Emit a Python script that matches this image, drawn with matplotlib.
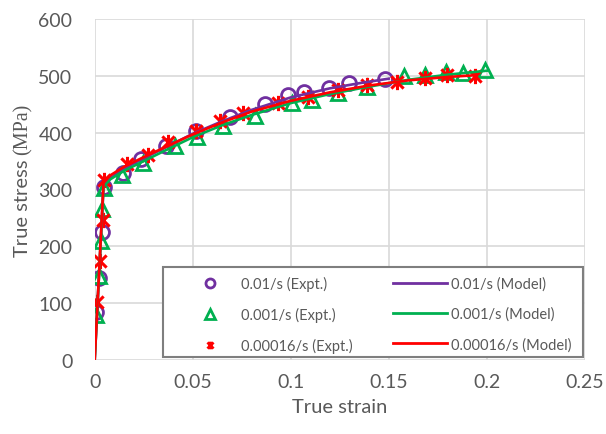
import matplotlib
matplotlib.use("Agg")
import matplotlib.pyplot as plt
from matplotlib.lines import Line2D
from matplotlib.patches import Rectangle
from matplotlib.path import Path
import numpy as np

# ---------------- data ----------------
strain_e1 = [0.0005, 0.0023, 0.0037, 0.0048, 0.0143, 0.0236, 0.0364, 0.0517, 0.069, 0.0869,
             0.0988, 0.107, 0.1197, 0.1298, 0.148]
stress_e1 = [84, 145, 226, 305, 329, 353, 376, 403, 428, 450, 467, 471, 478, 487, 495]

strain_e2 = [0.0007, 0.0022, 0.003, 0.0039, 0.0048, 0.0138, 0.0248, 0.041, 0.052, 0.0653, 0.0818,
             0.1005, 0.1107, 0.1243, 0.139, 0.158, 0.1685, 0.179, 0.188, 0.1991]
stress_e2 = [80, 148, 209, 265, 303, 326, 346, 376, 393, 412, 430, 452, 458, 470, 481, 499, 502,
             506, 505, 510]

strain_e3 = [0.0013, 0.0027, 0.0041, 0.0048, 0.0163, 0.0273, 0.0376, 0.0517, 0.064, 0.0758,
             0.0937, 0.109, 0.1243, 0.1388, 0.154, 0.1685, 0.1796, 0.194]
stress_e3 = [102, 174, 247, 317, 344, 361, 383, 403, 420, 435, 452, 463, 475, 484, 490, 497, 501, 499]

strain_m1 = [0, 0.0045, 0.008, 0.015, 0.025, 0.035, 0.05, 0.065, 0.08, 0.1, 0.12, 0.135, 0.15]
stress_m1 = [0, 305, 320, 337, 355, 372, 398, 420, 440, 462, 478, 487, 495]

strain_m2 = [0, 0.0045, 0.008, 0.015, 0.025, 0.035, 0.05, 0.065, 0.08, 0.1, 0.12, 0.14, 0.16, 0.18, 0.2]
stress_m2 = [0, 305, 318, 333, 350, 367, 392, 413, 431, 452, 468, 481, 493, 502, 509]

strain_m3 = [0, 0.0045, 0.008, 0.015, 0.025, 0.035, 0.05, 0.065, 0.08, 0.1, 0.12, 0.14, 0.16, 0.18, 0.194]
stress_m3 = [0, 312, 325, 340, 357, 373, 397, 418, 437, 456, 471, 483, 492, 498, 501]

labels_expt = ["0.01/s (Expt.)", "0.001/s (Expt.)", "0.00016/s (Expt.)"]
labels_model = ["0.01/s (Model)", "0.001/s (Model)", "0.00016/s (Model)"]

x_ticks = [0, 0.05, 0.1, 0.15, 0.2, 0.25]
x_ticklabels = ["0", "0.05", "0.1", "0.15", "0.2", "0.25"]
y_ticks = [0, 100, 200, 300, 400, 500, 600]

# ---------------- style ----------------
PURPLE = "#7030A0"
GREEN = "#00B050"
RED = "#FF0000"
TXT = "#595959"
GRID = "#D9D9D9"
FONT = "Lato"

# star marker: X plus vertical line
star = Path([(-1, -1), (1, 1), (-1, 1), (1, -1), (0, -1.25), (0, 1.25)],
            [Path.MOVETO, Path.LINETO, Path.MOVETO, Path.LINETO, Path.MOVETO, Path.LINETO])

fig = plt.figure(figsize=(6.06, 4.35), dpi=100)
ax = fig.add_axes([94.7 / 606, 1 - 361 / 435, 490 / 606, 341 / 435])

ax.plot(strain_e1, stress_e1, linestyle="none", marker="o", ms=10, mfc="none",
        mec=PURPLE, mew=2, zorder=3)
ax.plot(strain_e2, stress_e2, linestyle="none", marker="^", ms=10, mfc="none",
        mec=GREEN, mew=2, zorder=3)
ax.plot(strain_e3, stress_e3, linestyle="none", marker=star, ms=11, mfc="none",
        mec=RED, mew=2.2, zorder=3)

ax.plot(strain_m1, stress_m1, color=PURPLE, lw=1.9, zorder=4)
ax.plot(strain_m2, stress_m2, color=GREEN, lw=1.9, zorder=4)
ax.plot(strain_m3, stress_m3, color=RED, lw=1.9, zorder=4)

ax.set_xlim(0, 0.25)
ax.set_ylim(0, 600)
ax.set_xticks(x_ticks)
ax.set_xticklabels(x_ticklabels)
ax.set_yticks(y_ticks)
for s in ax.spines.values():
    s.set_visible(False)
ax.grid(True, color=GRID, lw=1.2)
ax.set_axisbelow(True)
ax.tick_params(length=0, labelsize=14, labelcolor=TXT)
ax.tick_params(axis="x", pad=9)
ax.tick_params(axis="y", pad=16)
for lab in ax.get_xticklabels() + ax.get_yticklabels():
    lab.set_fontfamily(FONT)

ax.set_xlabel("True strain", fontsize=14.5, color=TXT, family=FONT, labelpad=6)

# legend frame (drawn separately for exact placement)
ax.add_patch(Rectangle((0.139, 0.0088), 0.857, 0.264, transform=ax.transAxes,
                       facecolor="white", edgecolor="#7F7F7F", lw=1.5, zorder=5,
                       clip_on=False))

fs_leg = 10.5
h_e = [Line2D([], [], linestyle="none", marker="o", ms=6.5, mfc="none", mec=PURPLE, mew=2),
       Line2D([], [], linestyle="none", marker="^", ms=6.5, mfc="none", mec=GREEN, mew=2),
       Line2D([], [], linestyle="none", marker=star, ms=5.5, mfc="none", mec=RED, mew=2)]
h_m = [Line2D([], [], color=PURPLE, lw=2),
       Line2D([], [], color=GREEN, lw=2),
       Line2D([], [], color=RED, lw=2)]
px = fs_leg * 100 / 72
leg = ax.legend(h_e + h_m, labels_expt + labels_model, ncol=2,
                loc="upper left", bbox_to_anchor=((183 - 94.7) / 490, (361 - 277) / 341),
                frameon=False, borderaxespad=0, borderpad=0,
                prop={"family": FONT, "size": fs_leg}, labelcolor=TXT,
                handlelength=54 / px, handletextpad=4 / px, labelspacing=1.08,
                columnspacing=40 / px)
leg.set_zorder(6)

# y label: sans part + serif part
fig.canvas.draw()
r = fig.canvas.get_renderer()
bx = 28 / 606
t1 = fig.text(bx, 0, "True stress", rotation=90, rotation_mode="anchor",
              ha="left", va="baseline", fontsize=14.5, color=TXT, family=FONT)
t2 = fig.text(bx, 0, "(MPa)", rotation=90, rotation_mode="anchor",
              ha="left", va="baseline", fontsize=14.5, color=TXT, family="Liberation Serif")
gap = 4.5 / 435
h1 = t1.get_window_extent(r).height / fig.bbox.height
h2 = t2.get_window_extent(r).height / fig.bbox.height
ymid = 1 - 180 / 435
y0 = ymid - (h1 + gap + h2) / 2
t1.set_y(y0)
t2.set_y(y0 + h1 + gap)

fig.savefig("out.png", dpi=100)
